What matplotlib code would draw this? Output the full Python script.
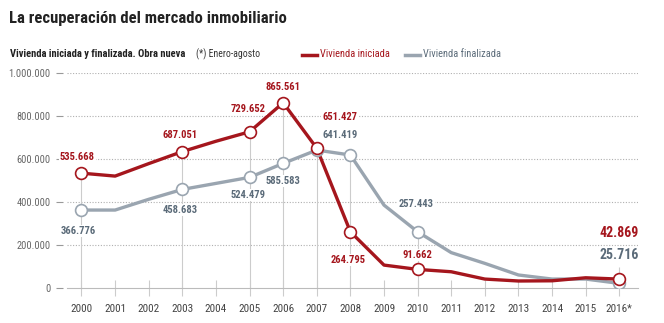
import numpy as np
import matplotlib
matplotlib.use("Agg")
import matplotlib.pyplot as plt

plt.rcParams['font.family'] = ['Roboto Condensed', 'Archivo Narrow', 'DejaVu Sans']

# data
years = np.arange(2000, 2017)
year_labels = [str(y) for y in range(2000, 2016)] + ['2016*']
iniciada = [535668, 522000, 580000, 636000, 684000, 728000, 863000, 651427,
            263000, 108000, 88000, 77000, 43000, 34000, 35000, 49000, 42869]
finalizada = [364000, 364000, 414000, 460000, 488000, 516000, 581000, 643000,
              620000, 387000, 263000, 166000, 116000, 62000, 43000, 43000, 23000]

# marked points and their printed labels
ini_marks = [2000, 2003, 2005, 2006, 2007, 2008, 2010, 2016]
ini_texts = ['535.668', '687.051', '729.652', '865.561', '651.427', '264.795', '91.662', '42.869']
ini_offs = [(-4, 16), (-2, 17), (-1, 23), (0, 16), (23, 31), (-2, -28), (0, 14), (0, 46)]
fin_marks = [2000, 2003, 2005, 2006, 2007, 2008, 2010, 2016]
fin_texts = ['366.776', '458.683', '524.479', '585.583', '641.419', None, '257.443', '25.716']
fin_offs = [(-3, -21), (-2, -21), (-1, -18), (0, -18), (23, 15), None, (-1, 28), (0, 28)]

RED = '#a5161d'
GRAY = '#9aa5b0'
SLATE = '#5b6b79'
GRID = '#b0b0b0'

fig = plt.figure(figsize=(6.64, 3.23), dpi=100)
ax = fig.add_axes([0.0949, 0.1074, 0.8661, 0.6656])

x0, x1 = 1999.45, 2016.56
ax.set_xlim(x0, x1)
ax.set_ylim(0, 1000000)

yticks = [0, 200000, 400000, 600000, 800000, 1000000]
ax.set_yticks(yticks)
ax.set_yticklabels(['0', '200.000', '400.000', '600.000', '800.000', '1.000.000'])
ax.hlines(yticks[1:], 1999.56, x1, colors=GRID, linestyles=(0, (1, 1.5)), lw=0.8, zorder=1)

ax.set_xticks(years)
ax.set_xticklabels(year_labels)

for s in ['top', 'right', 'left']:
    ax.spines[s].set_visible(False)
ax.spines['bottom'].set_bounds(1999.56, x1)
ax.spines['bottom'].set_color('#bbbbbb')
ax.tick_params(axis='y', length=5, width=0.8, color='#999999', pad=4,
               labelsize=7.5, labelcolor='#666666')
ax.tick_params(axis='x', direction='inout', length=12, width=0.8, color='#cccccc',
               pad=5, labelsize=8, labelcolor='#444444')

# guide lines from the axis up to the markers
ini_d = dict(zip(years, iniciada))
fin_d = dict(zip(years, finalizada))
for y in ini_marks:
    top = max(ini_d[y], fin_d[y])
    if y == years[-1]:
        top = 100000
    ax.vlines(y, 0, top, colors='#cccccc', lw=0.8, zorder=1)

ax.plot(years, finalizada, color=GRAY, lw=2.4, zorder=3, solid_capstyle='round')
ax.plot(years, iniciada, color=RED, lw=2.4, zorder=4, solid_capstyle='round')
ax.plot(fin_marks, [fin_d[y] for y in fin_marks], 'o', ms=8.5, mfc='white',
        mec=GRAY, mew=1.2, zorder=5)
ax.plot(ini_marks, [ini_d[y] for y in ini_marks], 'o', ms=8.5, mfc='white',
        mec=RED, mew=1.2, zorder=6)

box = dict(boxstyle='square,pad=0.1', fc='white', ec='none')
for y, t, o in zip(ini_marks, ini_texts, ini_offs):
    big = y == years[-1]
    ax.annotate(t, (y, ini_d[y]), xytext=o, textcoords='offset pixels',
                ha='center', va='center', color=RED, fontweight='bold',
                fontsize=10 if big else 7.6, bbox=box, zorder=7)
for y, t, o in zip(fin_marks, fin_texts, fin_offs):
    if t is None:
        continue
    big = y == years[-1]
    ax.annotate(t, (y, fin_d[y]), xytext=o, textcoords='offset pixels',
                ha='center', va='center', color=SLATE, fontweight='bold',
                fontsize=10 if big else 7.6, bbox=box, zorder=7)

# headings and legend
fig.text(9 / 664, 1 - 18 / 323, 'La recuperación del mercado inmobiliario',
         fontsize=12, fontweight='bold', color='#222222', va='center')
fig.text(10 / 664, 1 - 54 / 323, 'Vivienda iniciada y finalizada. Obra nueva',
         fontsize=7.6, fontweight='bold', color='#222222', va='center')
fig.text(196 / 664, 1 - 54 / 323, '(*) Enero-agosto', fontsize=7, color='#333333', va='center')
fig.add_artist(plt.Line2D([302 / 664, 317 / 664], [1 - 55 / 323] * 2, color=RED, lw=2.5))
fig.text(320 / 664, 1 - 54 / 323, 'Vivienda iniciada', fontsize=7.5, color=RED, va='center')
fig.add_artist(plt.Line2D([405 / 664, 420 / 664], [1 - 55 / 323] * 2, color=GRAY, lw=2.5))
fig.text(423 / 664, 1 - 54 / 323, 'Vivienda finalizada', fontsize=7.5, color=SLATE, va='center')

fig.savefig('out.png', dpi=100)
